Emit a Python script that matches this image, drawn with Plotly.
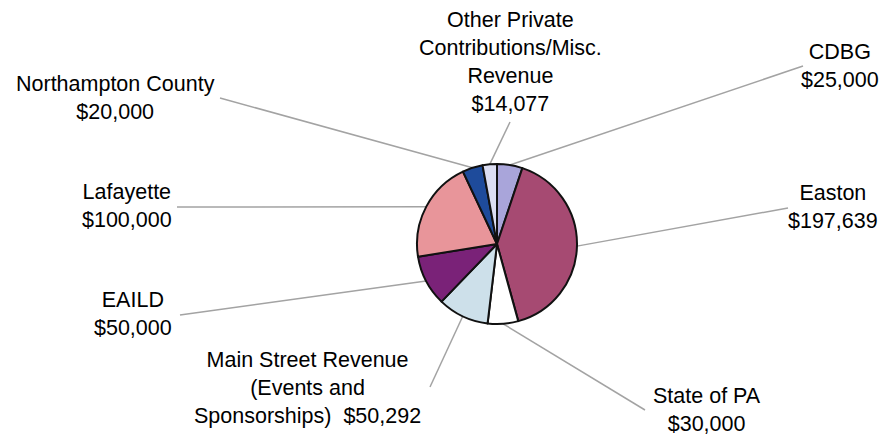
import math
import plotly.graph_objects as go

# ---- data ----
categories = ["CDBG", "Easton", "State of PA",
              "Main Street Revenue<br>(Events and<br>Sponsorships)  $50,292",
              "EAILD", "Lafayette", "Northampton County",
              "Other Private<br>Contributions/Misc.<br>Revenue"]
values = [25000, 197639, 30000, 50292, 50000, 100000, 20000, 14077]
value_labels = ["$25,000", "$197,639", "$30,000", "", "$50,000", "$100,000", "$20,000", "$14,077"]
colors = ["#a9a5da", "#a64a72", "#ffffff", "#cde0ea", "#7a2278", "#e8959a", "#1e4b9b", "#dcdef2"]

# ---- layout constants (window pixels) ----
OFF = 8  # default page margin around the figure
W, H = 890 - 2 * OFF, 438 - OFF
CX, CY, R = 497, 244, 80
# label text centre (x, y) and leader-line end (x, y)
label_pos = [(840, 66), (833, 207), (707, 410), (307, 388), (133, 314), (127, 206), (115, 98), (510, 62)]
line_end = [(803, 66), (788, 208), (645, 410), (430, 387), (180, 315), (177, 207), (220, 98), (510, 122)]

def px(x, y):
    return (x - OFF) / W, 1 - (y - OFF) / H

fig = go.Figure()
dx0, dy1 = px(CX - R, CY - R)
dx1, dy0 = px(CX + R, CY + R)
fig.add_trace(go.Pie(
    labels=[c.split("<br>")[0] for c in categories],
    values=values,
    sort=False,
    direction="clockwise",
    rotation=0,
    textinfo="none",
    hoverinfo="label+value",
    marker=dict(colors=colors, line=dict(color="#111111", width=2)),
    domain=dict(x=[dx0, dx1], y=[dy0, dy1]),
    showlegend=False,
))

total = sum(values)
cum = 0
shapes = []
annotations = []
for i, v in enumerate(values):
    mid = (cum + v / 2) / total * 2 * math.pi
    cum += v
    sx = CX + R * math.sin(mid)
    sy = CY - R * math.cos(mid)
    x0, y0 = px(sx, sy)
    x1, y1 = px(*line_end[i])
    shapes.append(dict(type="line", xref="paper", yref="paper", x0=x0, y0=y0, x1=x1, y1=y1,
                       line=dict(color="#a3a3a3", width=1.5), layer="below"))
    txt = categories[i] + ("<br>" + value_labels[i] if value_labels[i] else "")
    ax, ay = px(*label_pos[i])
    annotations.append(dict(x=ax, y=ay, xref="paper", yref="paper", text=txt, showarrow=False,
                            xanchor="center", yanchor="middle", align="center",
                            font=dict(family="Liberation Sans, Arial, sans-serif", size=21.5, color="#000000")))

fig.update_layout(
    width=W, height=H,
    margin=dict(l=0, r=0, t=0, b=0),
    paper_bgcolor="white", plot_bgcolor="white",
    shapes=shapes, annotations=annotations,
)
fig.write_html("out.html")
